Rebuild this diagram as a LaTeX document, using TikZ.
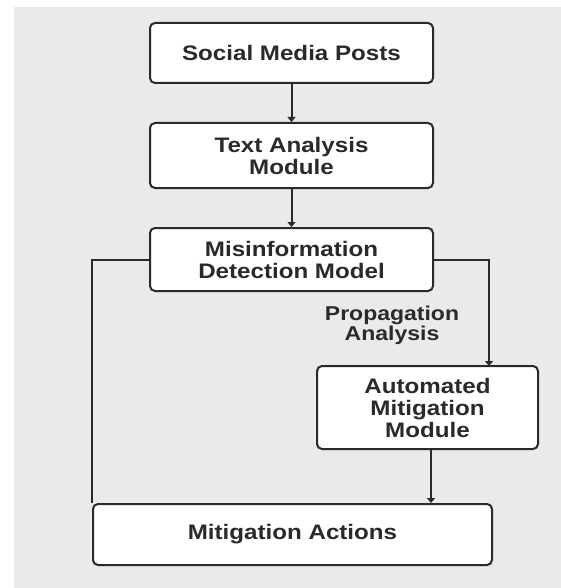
\documentclass[tikz,border=0pt]{standalone}
\usepackage{fontspec}
\setmainfont{Liberation Sans}[FakeStretch=1.15]
\usetikzlibrary{arrows.meta,calc}
\definecolor{bggray}{HTML}{EAEAEA}
\definecolor{ink}{HTML}{2A2A2A}
\begin{document}
\begin{tikzpicture}[x=1pt,y=-1pt,
  box/.style={draw=ink, line width=2pt, rounded corners=5pt, fill=white,
    align=center, text=ink, font=\fontsize{21}{22}\selectfont\bfseries, inner sep=0pt},
  conn/.style={draw=ink, line width=2pt},
  arr/.style={conn, -{Triangle[length=5pt,width=8pt]}},
  lbl/.style={align=center, font=\fontsize{20}{20}\selectfont\bfseries, text=ink}]
\useasboundingbox (0,0) rectangle (561,588);
\fill[bggray] (14,7) rectangle (561,588);
\node[box, minimum width=283pt, minimum height=60pt] (b1) at (291.5,53) {Social Media Posts};
\node[box, minimum width=283pt, minimum height=65pt] (b2) at (291.5,155.5) {Text Analysis\\Module};
\node[box, minimum width=283pt, minimum height=63pt] (b3) at (291.5,259.5) {Misinformation\\Detection Model};
\node[box, minimum width=221pt, minimum height=83pt] (b4) at (427.5,407.5) {Automated\\Mitigation\\Module};
\node[box, minimum width=399pt, minimum height=61pt] (b5) at (292.5,534.5) {Mitigation Actions};
\node[lbl] (pl) at (392,325) {Propagation\\Analysis};
\coordinate (rx) at (489,366);
\draw[arr] (b1) -- (b2);
\draw[arr] (b2) -- (b3);
\draw[conn] (b3.west) -| (b5.north west);
\draw[arr] (b3.east) -| (rx);
\draw[arr] ([xshift=3.5pt]b4.south) -- ([xshift=3.5pt]b4.south |- b5.north);
\end{tikzpicture}
\end{document}
